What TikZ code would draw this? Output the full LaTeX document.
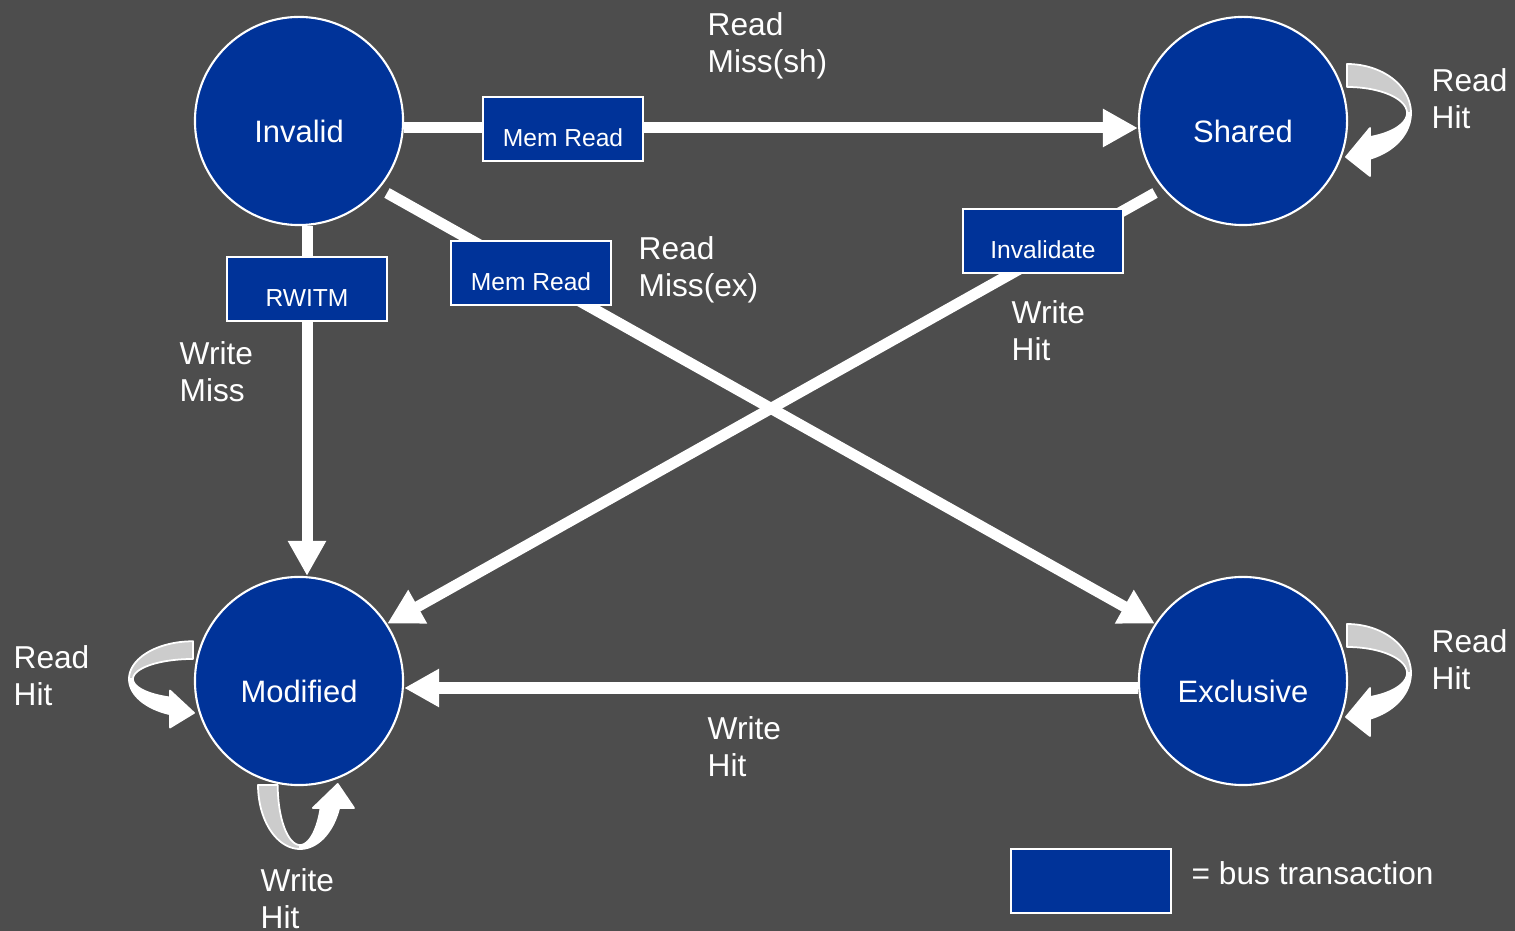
\documentclass[tikz,border=0pt]{standalone}
\usepackage{fontspec}
\setmainfont{Liberation Sans}
\usetikzlibrary{arrows.meta}

\definecolor{bg}{RGB}{77,77,77}
\definecolor{stateblue}{RGB}{0,51,153}
\definecolor{loopgray}{RGB}{204,204,204}

% curled self-transition arrow in local coordinates:
% x points away from the state, y runs from the tail (negative) to the head (positive)
\newcommand\curlarrow{%
  \filldraw[backface]
    plot[domain=-90:0, samples=30, variable=\t] ({64*cos(\t)},{49*sin(\t)})
    -- plot[domain=0:-90, samples=30, variable=\t] ({60*cos(\t)},{26*sin(\t)})
    -- cycle;
  \filldraw[frontface]
    plot[domain=0:69, samples=30, variable=\t] ({64*cos(\t)},{49*sin(\t)})
    -- (23,63) -- (-1,44) -- (23,15)
    -- plot[domain=67.5:0, samples=30, variable=\t] ({60*cos(\t)},{26*sin(\t)})
    -- cycle;
}

\begin{document}
\begin{tikzpicture}[x=0.01cm, y=-0.01cm,
  state/.style={circle, draw=white, line width=0.6pt, fill=stateblue,
    minimum size=2.08cm, inner sep=0, text=white,
    font=\fontsize{8.8pt}{10.8pt}\selectfont, text height=0.42cm, text depth=0cm},
  busbox/.style={draw=white, line width=0.6pt, fill=stateblue,
    minimum width=1.6cm, minimum height=0.64cm, inner sep=0, text=white,
    font=\fontsize{7pt}{8pt}\selectfont, text height=0.356cm, text depth=0cm},
  lbl/.style={text=white, font=\fontsize{9pt}{10.8pt}\selectfont,
    align=left, inner sep=0, anchor=base west},
  conn/.style={draw=white, line width=0.11cm,
    -{Triangle[length=0.35cm, width=0.36cm]}},
  backface/.style={fill=loopgray, draw=white, line width=0.5pt, line join=round},
  frontface/.style={fill=white, draw=white, line width=0.5pt, line join=round},
]
\useasboundingbox (0,0) rectangle (1515,931);
\fill[bg] (0,0) rectangle (1515,931);

% state anchors (placed first so connectors can refer to them)
\path (299,121) coordinate (invc) (1243,121) coordinate (shc)
      (299,681) coordinate (modc) (1243,681) coordinate (excc);

% self transitions
\begin{scope}[shift={(1347,113)}] \curlarrow \end{scope}
\begin{scope}[shift={(1347,673)}] \curlarrow \end{scope}
\begin{scope}[shift={(193,679)}, xscale=-1, yscale=0.77] \curlarrow \end{scope}
\begin{scope}[cm={0,-1,-0.857,0,(300,785)}] \curlarrow \end{scope}

% states
\node[state] (inv) at (invc) {Invalid};
\node[state] (sh)  at (shc)  {Shared};
\node[state] (mod) at (modc) {Modified};
\node[state] (exc) at (excc) {Exclusive};

% transitions
\draw[conn] ([yshift=-0.07cm]inv.east) -- ([yshift=-0.07cm]sh.west);
\draw[conn] ([xshift=0.08cm]inv.south) -- ([xshift=0.08cm]mod.north);
\draw[conn] ([yshift=-0.07cm]exc.west) -- ([yshift=-0.07cm]mod.east);
\draw[conn] ([shift={(88,72)}]inv.center) -- (exc.147);
\draw[conn] ([shift={(-88,72)}]sh.center) -- (mod.33);

% bus transactions
\node[busbox] (memrd1) at (563,129) {Mem Read};
\node[busbox] (memrd2) at (531,273) {Mem Read};
\node[busbox] (rwitm)  at (307,289) {RWITM};
\node[busbox] (inval)  at (1043,241) {Invalidate};

% event labels (anchored at the baseline of their last line)
\node[lbl] (l1) at (707,73)   {Read\\Miss(sh)};
\node[lbl] (l2) at (1431,129) {Read\\Hit};
\node[lbl] (l3) at (638,297)  {Read\\Miss(ex)};
\node[lbl] (l4) at (1011,361) {Write\\Hit};
\node[lbl] (l5) at (179,402)  {Write\\Miss};
\node[lbl] (l6) at (13,706)   {Read\\Hit};
\node[lbl] (l7) at (1431,690) {Read\\Hit};
\node[lbl] (l8) at (707,777)  {Write\\Hit};
\node[lbl] (l9) at (260,929)  {Write\\Hit};

% legend
\node[busbox] (legend) at (1091,881) {};
\node[lbl] (legendtxt) at (1191,884) {= bus transaction};
\end{tikzpicture}
\end{document}
